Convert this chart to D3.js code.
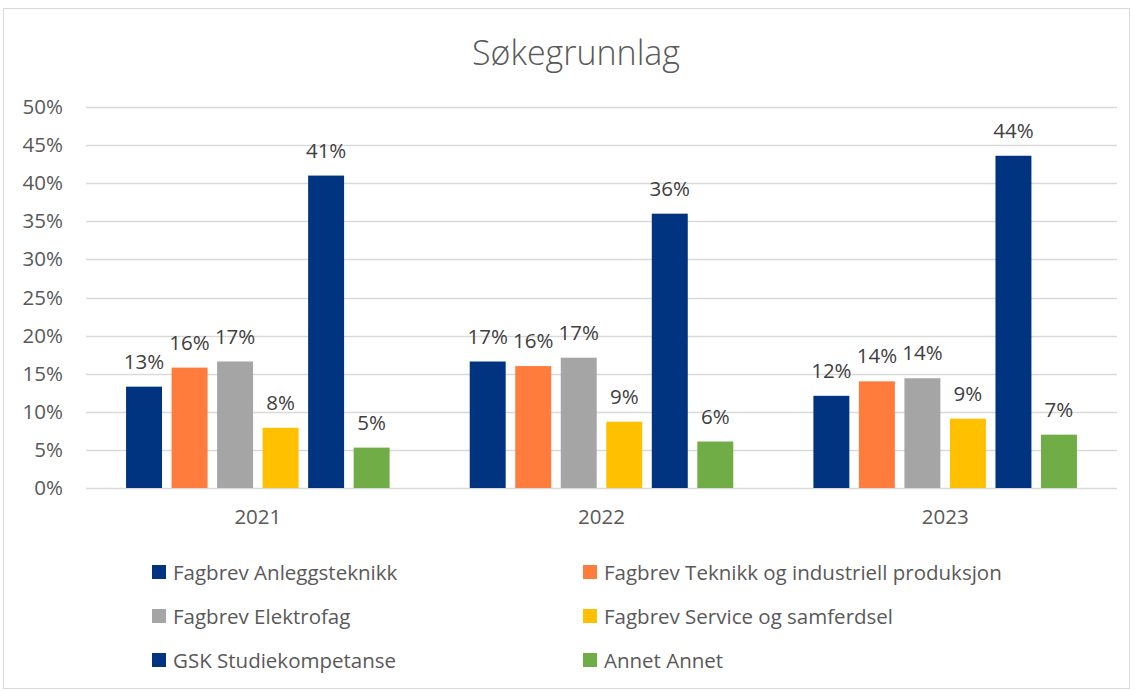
<!DOCTYPE html>
<meta charset="utf-8">
<title>Søkegrunnlag</title>
<style>
body { margin: 0; background: #fff; }
text { font-family: "Open Sans", Lato, sans-serif; }
</style>
<body></body>
<script src="https://d3js.org/d3.v7.min.js"></script>
<script>
var years = ['2021', '2022', '2023'];
var seriesNames = [
  'Fagbrev Anleggsteknikk',
  'Fagbrev Teknikk og industriell produksjon',
  'Fagbrev Elektrofag',
  'Fagbrev Service og samferdsel',
  'GSK Studiekompetanse',
  'Annet Annet'
];
var anlegg = [13.3, 16.6, 12.1];
var teknikk = [15.8, 16.0, 14.0];
var elektro = [16.6, 17.1, 14.4];
var service = [7.9, 8.7, 9.1];
var gsk = [41.0, 36.0, 43.6];
var annet = [5.3, 6.1, 7.0];
var yTicks = [0, 5, 10, 15, 20, 25, 30, 35, 40, 45, 50];
var colors = ['#003380', '#ff7c3c', '#a5a5a5', '#ffc000', '#003380', '#70ad47'];

var seriesValues = [anlegg, teknikk, elektro, service, gsk, annet];

var width = 1135, height = 691;
var margin = {left: 86, right: 18, top: 107, bottom: 203};
var fs = 20.5;

var svg = d3.select('body').append('svg')
  .attr('width', width)
  .attr('height', height);

svg.append('rect')
  .attr('x', 3.5).attr('y', 8.5)
  .attr('width', 1126).attr('height', 680)
  .attr('fill', '#fff')
  .attr('stroke', '#d9d9d9');

svg.append('text')
  .attr('x', 576).attr('y', 65)
  .attr('text-anchor', 'middle')
  .attr('font-size', 34)
  .attr('font-weight', 300)
  .attr('fill', '#595959')
  .text('Søkegrunnlag');

var x0 = d3.scaleBand()
  .domain(years)
  .range([margin.left, width - margin.right]);

var x1 = d3.scaleBand()
  .domain(d3.range(seriesNames.length))
  .range([0, x0.bandwidth()])
  .paddingInner(0.21)
  .paddingOuter(0.88);

var y = d3.scaleLinear()
  .domain([0, 50])
  .range([height - margin.bottom, margin.top]);

// gridlines
svg.append('g')
  .selectAll('line')
  .data(yTicks)
  .enter().append('line')
  .attr('x1', margin.left)
  .attr('x2', width - margin.right)
  .attr('y1', function (d) { return Math.round(y(d)) + 0.5; })
  .attr('y2', function (d) { return Math.round(y(d)) + 0.5; })
  .attr('stroke', '#d9d9d9')
  .attr('stroke-width', 1.3);

var yAxis = svg.append('g')
  .attr('transform', 'translate(' + (margin.left - 20) + ',0)')
  .call(d3.axisLeft(y).tickValues(yTicks).tickSize(0).tickFormat(function (d) { return d + '%'; }));
yAxis.select('.domain').remove();
yAxis.selectAll('text')
  .attr('font-size', fs)
  .attr('fill', '#595959')
  .style('font-family', '"Open Sans", sans-serif');

var xAxis = svg.append('g')
  .attr('transform', 'translate(0,' + (height - margin.bottom + 18) + ')')
  .call(d3.axisBottom(x0).tickSize(0));
xAxis.select('.domain').remove();
xAxis.selectAll('text')
  .attr('font-size', fs)
  .attr('fill', '#595959')
  .style('font-family', '"Open Sans", sans-serif');

var groups = svg.append('g')
  .selectAll('g')
  .data(years)
  .enter().append('g')
  .attr('transform', function (d) { return 'translate(' + x0(d) + ',0)'; });

groups.each(function (year, yi) {
  var g = d3.select(this);
  var rows = seriesValues.map(function (vals, si) { return {si: si, v: vals[yi]}; });
  g.selectAll('rect')
    .data(rows)
    .enter().append('rect')
    .attr('x', function (d) { return x1(d.si); })
    .attr('width', x1.bandwidth())
    .attr('y', function (d) { return y(d.v); })
    .attr('height', function (d) { return y(0) - y(d.v); })
    .attr('fill', function (d) { return colors[d.si]; });
  g.selectAll('text.lbl')
    .data(rows)
    .enter().append('text')
    .attr('class', 'lbl')
    .attr('x', function (d) { return x1(d.si) + x1.bandwidth() / 2; })
    .attr('y', function (d) { return y(d.v) - 18; })
    .attr('text-anchor', 'middle')
    .attr('font-size', fs)
    .attr('fill', '#404040')
    .text(function (d) { return Math.round(d.v) + '%'; });
});

// legend
var legend = svg.append('g')
  .selectAll('g')
  .data(seriesNames)
  .enter().append('g')
  .attr('transform', function (d, i) {
    return 'translate(' + (i % 2 === 0 ? 152 : 583) + ',' + (572 + Math.floor(i / 2) * 44) + ')';
  });
legend.append('rect')
  .attr('x', 0).attr('y', -7)
  .attr('width', 14).attr('height', 14)
  .attr('fill', function (d, i) { return colors[i]; });
legend.append('text')
  .attr('x', 21).attr('y', 7.5)
  .attr('font-size', fs)
  .attr('fill', '#595959')
  .text(function (d) { return d; });
</script>
